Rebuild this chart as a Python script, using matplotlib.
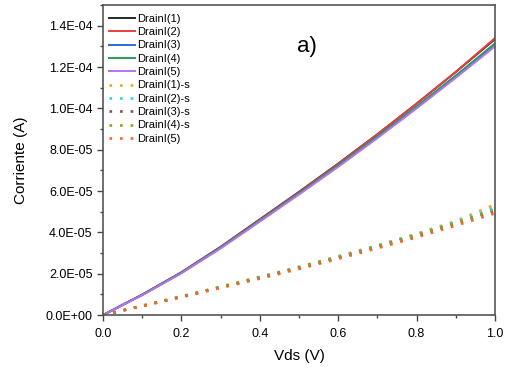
import matplotlib
matplotlib.use("Agg")
import matplotlib.pyplot as plt
from matplotlib.ticker import MultipleLocator, FuncFormatter

plt.rcParams['font.family'] = ['Liberation Sans', 'DejaVu Sans']

vds = [0.0, 0.1, 0.2, 0.3, 0.4, 0.5, 0.6, 0.7, 0.8, 0.9, 1.0]

# drain current, units of 1e-5 A
d1 = [0, 0.99, 2.07, 3.30, 4.63, 5.96, 7.33, 8.75, 10.23, 11.76, 13.35]
d2 = [0, 0.98, 2.06, 3.29, 4.61, 5.94, 7.31, 8.74, 10.23, 11.77, 13.40]
d3 = [0, 0.97, 2.04, 3.26, 4.57, 5.89, 7.24, 8.64, 10.09, 11.58, 13.10]
d4 = [0, 0.97, 2.04, 3.25, 4.56, 5.88, 7.23, 8.63, 10.08, 11.58, 13.15]
d5 = [0, 0.96, 2.02, 3.22, 4.52, 5.83, 7.17, 8.56, 10.00, 11.48, 13.00]

s1 = [0, 0.45, 0.90, 1.37, 1.84, 2.33, 2.84, 3.37, 3.93, 4.55, 5.35]
s2 = [0, 0.45, 0.90, 1.37, 1.84, 2.32, 2.83, 3.36, 3.91, 4.50, 5.20]
s3 = [0, 0.44, 0.88, 1.34, 1.80, 2.28, 2.78, 3.30, 3.85, 4.44, 5.05]
s4 = [0, 0.44, 0.89, 1.35, 1.82, 2.30, 2.80, 3.32, 3.87, 4.46, 5.10]
s5 = [0, 0.43, 0.86, 1.31, 1.76, 2.23, 2.72, 3.23, 3.76, 4.33, 4.92]

solid = [("DrainI(1)", d1, "#262626"), ("DrainI(2)", d2, "#e8403c"),
         ("DrainI(3)", d3, "#2a6fd6"), ("DrainI(4)", d4, "#2a9d5c"),
         ("DrainI(5)", d5, "#b472f2")]
dotted = [("DrainI(1)-s", s1, "#eba52e"), ("DrainI(2)-s", s2, "#2fd0e0"),
          ("DrainI(3)-s", s3, "#8e4a50"), ("DrainI(4)-s", s4, "#9a9a1e"),
          ("DrainI(5)", s5, "#f2652a")]

fig = plt.figure(figsize=(5.05, 3.68), dpi=100)
ax = fig.add_axes([0.204, 0.144, 0.776, 0.842])

for name, vals, c in solid:
    ax.plot(vds, [v * 1e-5 for v in vals], color=c, lw=1.4, label=name)
for name, vals, c in dotted:
    ax.plot(vds, [v * 1e-5 for v in vals], color=c, lw=1.9,
            linestyle=(0, (1, 3)), dash_capstyle='butt', label=name)

ax.set_xlim(0, 1.0)
ax.set_ylim(0, 1.5e-4)
ax.xaxis.set_major_locator(MultipleLocator(0.2))
ax.xaxis.set_minor_locator(MultipleLocator(0.1))
ax.yaxis.set_major_locator(MultipleLocator(2e-5))
ax.yaxis.set_minor_locator(MultipleLocator(1e-5))
ax.xaxis.set_major_formatter(FuncFormatter(lambda v, p: "%.1f" % v))

def sci(v, p):
    if abs(v) < 1e-12:
        return "0.0E+00"
    return "%.1E" % v

ax.yaxis.set_major_formatter(FuncFormatter(sci))
ax.tick_params(which='both', direction='out', labelsize=9, color='#444444', width=1)
ax.tick_params(which='major', length=4)
ax.tick_params(which='minor', length=2.5)
ax.tick_params(axis='x', pad=5)
for sp in ax.spines.values():
    sp.set_color('#555555')
    sp.set_linewidth(1.2)

ax.set_xlabel("Vds (V)", fontsize=11, labelpad=7)
ax.set_ylabel("Corriente (A)", fontsize=11, labelpad=13)
ax.text(0.495, 0.85, "a)", transform=ax.transAxes, fontsize=16)

ax.legend(loc='upper left', frameon=False, fontsize=8, handlelength=2.4,
          handletextpad=0.2, labelspacing=0.3, borderaxespad=0.1,
          bbox_to_anchor=(0.0, 0.99))

fig.savefig("out.png", dpi=100)
